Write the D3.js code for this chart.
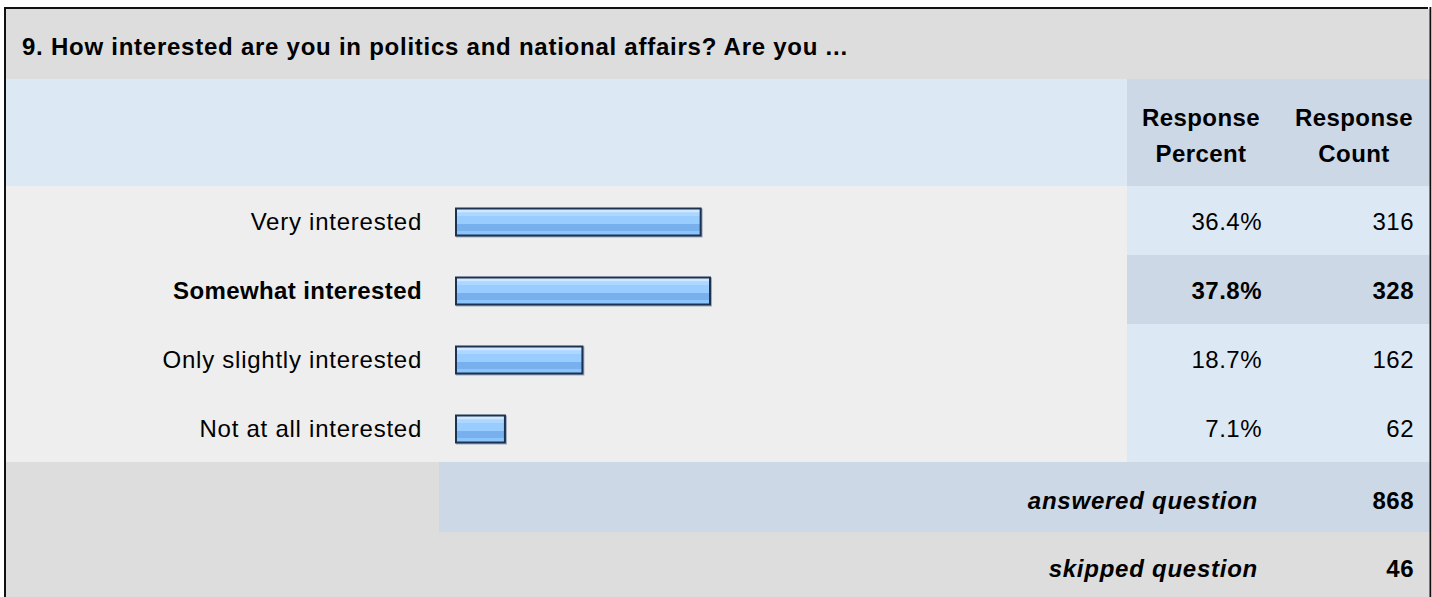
<!DOCTYPE html>
<html>
<head>
<meta charset="utf-8">
<script src="https://cdn.jsdelivr.net/npm/d3@7"></script>
<style>
  html, body { margin: 0; padding: 0; background: #ffffff; }
  svg { display: block; }
  text { font-family: "Liberation Sans", Arial, Helvetica, sans-serif; fill: #000; }
</style>
</head>
<body>
<div id="chart"></div>
<script>
// ---- data ----
const title = "9. How interested are you in politics and national affairs? Are you ...";
const categories = ["Very interested", "Somewhat interested", "Only slightly interested", "Not at all interested"];
const percents = [36.4, 37.8, 18.7, 7.1];
const counts = [316, 328, 162, 62];
const highlighted = ["Somewhat interested"];
const columnHeaders = [["Response", "Percent"], ["Response", "Count"]];
const summaryLabels = ["answered question", "skipped question"];
const summaryValues = [868, 46];

// ---- layout ----
const W = 1432, H = 597;
const left = 6, right = 1430;
const colSplit = 1127, summarySplit = 439;
const titleTop = 9, headTop = 79, rowsTop = 186, rowsBottom = 462, summaryRowH = 70;

const svg = d3.select("#chart").append("svg").attr("width", W).attr("height", H);

const defs = svg.append("defs");
const grad = defs.append("linearGradient").attr("id", "barGrad")
  .attr("x1", 0).attr("y1", 0).attr("x2", 0).attr("y2", 1);
[[0, "#d2e8ff"], [0.14, "#d2e8ff"], [0.15, "#aed7ff"], [0.28, "#aed7ff"], [0.29, "#99ccff"],
 [0.57, "#99ccff"], [0.58, "#78b0ee"], [0.82, "#78b0ee"], [0.83, "#8cc4fc"], [1, "#8cc4fc"]]
  .forEach(([o, c]) => grad.append("stop").attr("offset", o).attr("stop-color", c));

// backgrounds
svg.append("rect").attr("x", left).attr("y", titleTop).attr("width", right - left).attr("height", headTop - titleTop).attr("fill", "#dddddd");
svg.append("rect").attr("x", left).attr("y", headTop).attr("width", colSplit - left).attr("height", rowsTop - headTop).attr("fill", "#dde8f5");
svg.append("rect").attr("x", colSplit).attr("y", headTop).attr("width", right - colSplit).attr("height", rowsTop - headTop).attr("fill", "#cdd8e6");

const y = d3.scaleBand().domain(categories).range([rowsTop, rowsBottom]).padding(0);
const x = d3.scaleLinear().domain([0, 100]).range([0, 668]);
const barX = 456;

const rows = svg.append("g").selectAll("g").data(categories).join("g")
  .attr("transform", d => `translate(0,${y(d)})`);
rows.append("rect").attr("x", left).attr("y", 0).attr("width", colSplit - left).attr("height", y.bandwidth()).attr("fill", "#eeeeee");
rows.append("rect").attr("x", colSplit).attr("y", 0).attr("width", right - colSplit).attr("height", y.bandwidth())
  .attr("fill", d => highlighted.includes(d) ? "#cdd8e6" : "#dde8f5");

const cy = y.bandwidth() / 2 + 1.5;
// bars
rows.append("rect").attr("x", barX).attr("y", cy - 13.5)
  .attr("width", (d, i) => x(percents[i]) + 1.5).attr("height", 27)
  .attr("fill", "none").attr("stroke", "#7f8ea6").attr("stroke-width", 2).attr("opacity", 0.7)
  .attr("transform", "translate(1,1)");
rows.append("rect").attr("x", barX).attr("y", cy - 13.5)
  .attr("width", (d, i) => x(percents[i]) + 1.5).attr("height", 27)
  .attr("fill", "url(#barGrad)").attr("stroke", "#1c3252").attr("stroke-width", 2);

// labels
const isHi = d => highlighted.includes(d);
rows.append("text").attr("x", 422).attr("y", y.bandwidth() / 2 + 9.3)
  .attr("text-anchor", "end").attr("font-size", 24)
  .attr("letter-spacing", d => isHi(d) ? 0.4 : 0.75)
  .attr("font-weight", d => isHi(d) ? "bold" : "normal")
  .text(d => d);
rows.append("text").attr("x", 1262).attr("y", y.bandwidth() / 2 + 9.5)
  .attr("text-anchor", "end").attr("font-size", 24).attr("letter-spacing", 0.5)
  .attr("font-weight", d => isHi(d) ? "bold" : "normal")
  .text((d, i) => percents[i].toFixed(1) + "%");
rows.append("text").attr("x", 1414).attr("y", y.bandwidth() / 2 + 9.5)
  .attr("text-anchor", "end").attr("font-size", 24).attr("letter-spacing", 0.5)
  .attr("font-weight", d => isHi(d) ? "bold" : "normal")
  .text((d, i) => counts[i]);

// summary rows
svg.append("rect").attr("x", left).attr("y", rowsBottom).attr("width", summarySplit - left).attr("height", summaryRowH).attr("fill", "#dddddd");
svg.append("rect").attr("x", summarySplit).attr("y", rowsBottom).attr("width", right - summarySplit).attr("height", summaryRowH).attr("fill", "#cdd8e6");
svg.append("rect").attr("x", left).attr("y", rowsBottom + summaryRowH).attr("width", right - left).attr("height", H - rowsBottom - summaryRowH).attr("fill", "#dddddd");
const sumBase = [509, 577];
summaryLabels.forEach((s, i) => {
  svg.append("text").attr("x", 1258).attr("y", sumBase[i]).attr("text-anchor", "end")
    .attr("font-size", 24).attr("font-weight", "bold").attr("font-style", "italic").attr("letter-spacing", 0.75).text(s);
  svg.append("text").attr("x", 1414).attr("y", sumBase[i]).attr("text-anchor", "end")
    .attr("font-size", 24).attr("font-weight", "bold").attr("letter-spacing", 0.5).text(summaryValues[i]);
});

// title
svg.append("text").attr("x", 22).attr("y", 55).attr("font-size", 24).attr("font-weight", "bold").attr("letter-spacing", 0.75).text(title);

// column headers
const headCx = [1201, 1354];
columnHeaders.forEach((lines, i) => {
  lines.forEach((l, j) => {
    svg.append("text").attr("x", headCx[i]).attr("y", 126 + j * 36).attr("text-anchor", "middle")
      .attr("font-size", 24).attr("font-weight", "bold").attr("letter-spacing", 0.4).text(l);
  });
});

// frame
svg.append("rect").attr("x", 4).attr("y", 7).attr("width", 2).attr("height", H - 7).attr("fill", "#111");
svg.append("rect").attr("x", 4).attr("y", 7).attr("width", 1428 - 4).attr("height", 2).attr("fill", "#111");
svg.append("rect").attr("x", 1429.5).attr("y", 7).attr("width", 1.8).attr("height", H - 7).attr("fill", "#111");
</script>
</body>
</html>
